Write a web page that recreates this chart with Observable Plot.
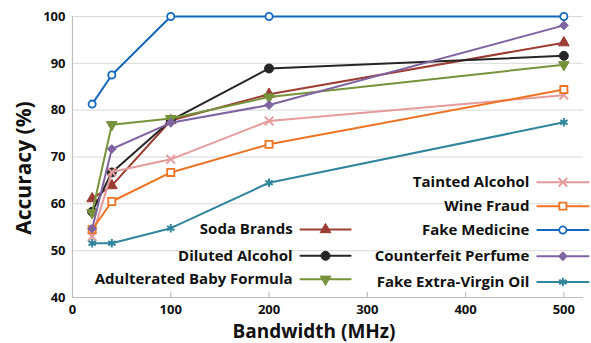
<!DOCTYPE html>
<html><head><meta charset="utf-8">
<script src="https://cdn.jsdelivr.net/npm/d3@7"></script>
<script src="https://cdn.jsdelivr.net/npm/@observablehq/plot@0.6"></script>
<style>
body{margin:0;background:#fff;}
#chart{position:relative;width:591px;height:343px;}
</style>
</head><body><div id="chart"></div>
<script>
const bandwidth = [20, 40, 100, 200, 500];
const seriesNames = ["Soda Brands","Diluted Alcohol","Adulterated Baby Formula","Tainted Alcohol","Wine Fraud","Fake Medicine","Counterfeit Perfume","Fake Extra-Virgin Oil"];
const sodaBrands = [61.1, 63.9, 77.8, 83.4, 94.4];
const dilutedAlcohol = [58.3, 66.7, 77.8, 88.9, 91.6];
const babyFormula = [58.1, 76.9, 78.2, 82.8, 89.7];
const taintedAlcohol = [53.0, 66.8, 69.5, 77.7, 83.2];
const wineFraud = [54.5, 60.5, 66.7, 72.7, 84.4];
const fakeMedicine = [81.3, 87.5, 100, 100, 100];
const counterfeitPerfume = [54.7, 71.7, 77.3, 81.1, 98.1];
const fakeOil = [51.6, 51.6, 54.8, 64.5, 77.4];
const xTicks = [0, 100, 200, 300, 400, 500];
const yTicks = [40, 50, 60, 70, 80, 90, 100];

const values = [sodaBrands, dilutedAlcohol, babyFormula, taintedAlcohol, wineFraud, fakeMedicine, counterfeitPerfume, fakeOil];
const styles = [
  {color:"#9c3d33", symbol:"triangle", rotate:0, hollow:false, r:4},
  {color:"#262626", symbol:"circle", rotate:0, hollow:false, r:4.5},
  {color:"#76933c", symbol:"triangle", rotate:180, hollow:false, r:4},
  {color:"#e49b9b", symbol:"times", rotate:0, hollow:false, r:4},
  {color:"#ee7423", symbol:"square", rotate:0, hollow:true, r:4},
  {color:"#1368bd", symbol:"circle", rotate:0, hollow:true, r:3.6},
  {color:"#8064a2", symbol:"diamond2", rotate:0, hollow:false, r:4},
  {color:"#31859c", symbol:"asterisk", rotate:0, hollow:false, r:4}
];
// legend layout (data units)
const legendLayout = [
  {x1:232, x2:283, tx:224, y:54.5},
  {x1:232, x2:283, tx:224, y:48.9},
  {x1:232, x2:283, tx:224, y:43.9},
  {x1:473, x2:525, tx:465, y:64.6},
  {x1:473, x2:525, tx:465, y:59.5},
  {x1:473, x2:525, tx:465, y:54.4},
  {x1:473, x2:525, tx:465, y:48.8},
  {x1:473, x2:525, tx:465, y:43.3}
];

const FONT = "'Open Sans', sans-serif";
const marks = [];
marks.push(Plot.ruleY(yTicks.slice(1), {stroke:"#d9d9d9", strokeWidth:1}));
marks.push(Plot.ruleY([40], {stroke:"#bfbfbf", strokeWidth:1.2}));
marks.push(Plot.ruleX([0], {stroke:"#bfbfbf", strokeWidth:1.2}));
marks.push(Plot.ruleX(xTicks.slice(1), {y1:40, y2:41.1, stroke:"#bfbfbf", strokeWidth:1.2}));

function dotOpts(s) {
  const line = s.symbol==="times"||s.symbol==="asterisk";
  return {x:"x", y:"y", symbol:s.symbol, r:s.r, rotate:s.rotate,
    fill: s.hollow ? "white" : (line ? "none" : s.color),
    stroke:s.color, strokeWidth: s.hollow ? 1.8 : (line ? 2 : 1)};
}

seriesNames.forEach((name, i) => {
  const s = styles[i];
  const data = bandwidth.map((b, j) => ({x:b, y:values[i][j]}));
  marks.push(Plot.line(data, {x:"x", y:"y", stroke:s.color, strokeWidth:2}));
  marks.push(Plot.dot(data, dotOpts(s)));
  const L = legendLayout[i];
  marks.push(Plot.line([{x:L.x1,y:L.y},{x:L.x2,y:L.y}], {x:"x", y:"y", stroke:s.color, strokeWidth:2}));
  marks.push(Plot.dot([{x:(L.x1+L.x2)/2, y:L.y}], dotOpts(s)));
  marks.push(Plot.text([{x:L.tx, y:L.y, t:name}], {x:"x", y:"y", text:"t", textAnchor:"end",
    fontSize:15, fontWeight:700, fill:"#111", fontFamily:FONT}));
});

marks.push(Plot.axisX(xTicks, {tickSize:0, tickPadding:7, fontSize:13, fontWeight:700, fontFamily:FONT, color:"#111", label:null}));
marks.push(Plot.axisY(yTicks, {tickSize:0, tickPadding:7, fontSize:13, fontWeight:700, fontFamily:FONT, color:"#111", label:null}));

const plot = Plot.plot({
  width:591, height:343,
  marginLeft:72, marginRight:8, marginTop:16, marginBottom:46,
  x:{domain:[0,520]},
  y:{domain:[40,100]},
  style:{fontFamily:FONT, background:"white"},
  marks
});
const chart = document.getElementById("chart");
chart.appendChild(plot);
const svg = d3.select(plot);
svg.append("text").attr("x",314).attr("y",338).attr("text-anchor","middle")
  .attr("font-family",FONT).attr("font-weight",700).attr("font-size",19).attr("fill","#111").text("Bandwidth (MHz)");
svg.append("text").attr("transform","translate(31,168) rotate(-90)").attr("text-anchor","middle")
  .attr("font-family",FONT).attr("font-weight",700).attr("font-size",21).attr("fill","#111").text("Accuracy (%)");
</script></body></html>
